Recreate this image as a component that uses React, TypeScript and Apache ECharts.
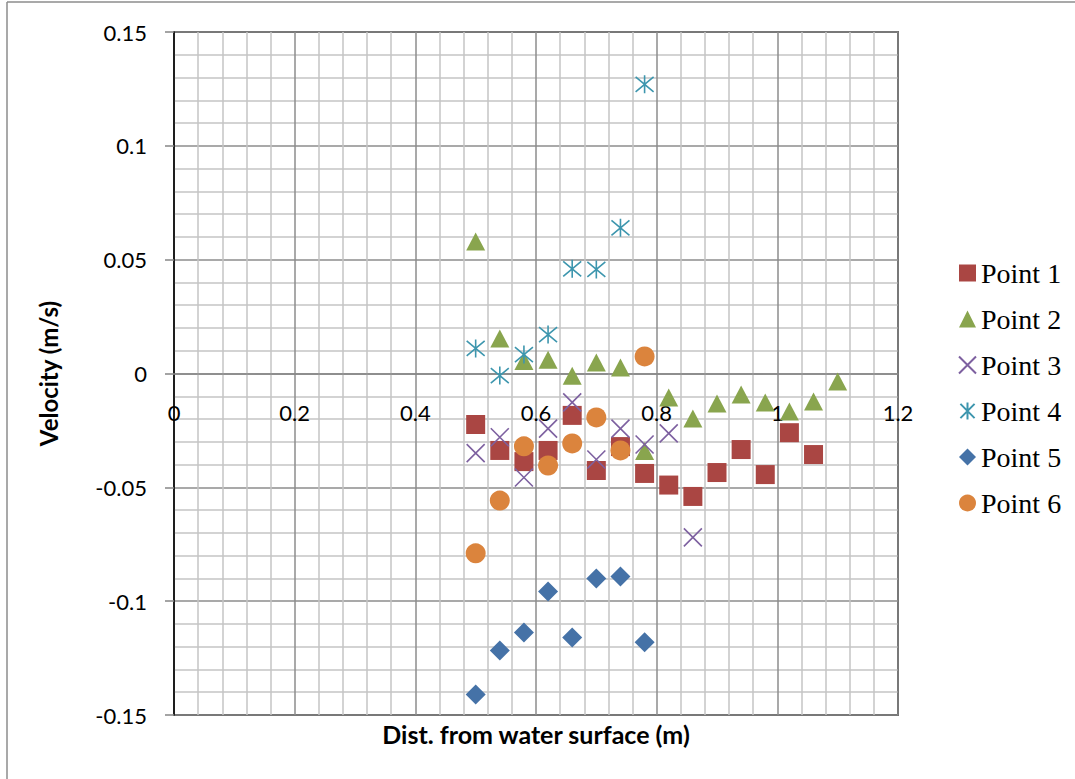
import React, { useEffect, useRef } from "react";
import * as echarts from "echarts";

const seriesNames = ["Point 1", "Point 2", "Point 3", "Point 4", "Point 5", "Point 6"];

const xP1 = [0.5, 0.54, 0.58, 0.62, 0.66, 0.7, 0.74, 0.78, 0.82, 0.86, 0.9, 0.94, 0.98, 1.02, 1.06];
const yP1 = [-0.0224, -0.0338, -0.0387, -0.0338, -0.0184, -0.0426, -0.0321, -0.0439, -0.049, -0.054, -0.0435, -0.0334, -0.0444, -0.026, -0.0356];

const xP2 = [0.5, 0.54, 0.58, 0.62, 0.66, 0.7, 0.74, 0.78, 0.82, 0.86, 0.9, 0.94, 0.98, 1.02, 1.06, 1.1];
const yP2 = [0.058, 0.0154, 0.0055, 0.006, -0.001, 0.0048, 0.0026, -0.034, -0.0105, -0.0198, -0.0132, -0.0092, -0.0127, -0.0167, -0.0123, -0.0035];

const xP3 = [0.5, 0.54, 0.58, 0.62, 0.66, 0.7, 0.74, 0.78, 0.82, 0.86];
const yP3 = [-0.035, -0.028, -0.0457, -0.0242, -0.0127, -0.0378, -0.0242, -0.0312, -0.0263, -0.072];

const xP4 = [0.5, 0.54, 0.58, 0.62, 0.66, 0.7, 0.74, 0.78];
const yP4 = [0.011, -0.0009, 0.0083, 0.0171, 0.046, 0.0457, 0.064, 0.127];

const xP5 = [0.5, 0.54, 0.58, 0.62, 0.66, 0.7, 0.74, 0.78];
const yP5 = [-0.141, -0.1217, -0.1138, -0.0957, -0.116, -0.09, -0.0892, -0.118];

const xP6 = [0.5, 0.54, 0.58, 0.62, 0.66, 0.7, 0.74, 0.78];
const yP6 = [-0.079, -0.0558, -0.032, -0.0404, -0.0307, -0.0193, -0.0338, 0.0075];

const xVals = [xP1, xP2, xP3, xP4, xP5, xP6];
const yVals = [yP1, yP2, yP3, yP4, yP5, yP6];

const colors = ["#AA4643", "#89A54E", "#7D60A0", "#3D96AE", "#4572A7", "#DB843D"];

const X_PATH = "path://M0,0L10,10M10,0L0,10";
const STAR_PATH = "path://M0,0L10,10M10,0L0,10M5,-1L5,11";

const symbols: any[] = ["rect", "triangle", X_PATH, STAR_PATH, "diamond", "circle"];
const symbolSizes: any[] = [19, [19, 18], 18, 18, [20, 20], 20];

export default function App() {
  const ref = useRef<HTMLDivElement>(null);
  useEffect(() => {
    if (!ref.current) return;
    const chart = echarts.init(ref.current, undefined, { renderer: "svg" });
    const series = seriesNames.map((name, i) => {
      const stroked = i === 2 || i === 3;
      return {
        name,
        type: "scatter",
        data: xVals[i].map((x, k) => [x, yVals[i][k]]),
        symbol: symbols[i],
        symbolSize: symbolSizes[i],
        itemStyle: stroked
          ? { color: "rgba(0,0,0,0)", borderColor: colors[i], borderWidth: 1.6, opacity: 1 }
          : { color: colors[i], opacity: 1 },
        emphasis: { disabled: true },
      };
    });
    chart.setOption({
      animation: false,
      backgroundColor: "#ffffff",
      grid: {
        left: 174,
        top: 32,
        right: 177,
        bottom: 64,
        containLabel: false,
        outerBoundsMode: "none",
        show: true,
        borderColor: "#000000",
        borderWidth: 1.5,
        backgroundColor: "transparent",
      },
      graphic: [
        { type: "line", shape: { x1: 7, y1: 2, x2: 7, y2: 779 }, style: { stroke: "#8c8c8c", lineWidth: 1.5 } },
        { type: "line", shape: { x1: 7, y1: 2, x2: 1075, y2: 2 }, style: { stroke: "#8c8c8c", lineWidth: 1.5 } },
      ],
      legend: {
        orient: "vertical",
        left: 958,
        top: 258,
        padding: 0,
        itemWidth: 17,
        itemHeight: 17,
        itemGap: 16,
        data: seriesNames,
        textStyle: { fontSize: 28, lineHeight: 30, fontFamily: "Liberation Serif", color: "#000" },
      },
      xAxis: {
        type: "value",
        min: 0,
        max: 1.2,
        interval: 0.2,
        position: "bottom",
        offset: -341.5,
        name: "Dist. from water surface (m)",
        nameLocation: "middle",
        nameGap: 348,
        nameTextStyle: { fontSize: 25, fontWeight: "bold", fontFamily: "Lato", color: "#000" },
        axisLine: { onZero: false, lineStyle: { color: "#868686", width: 1.5 } },
        axisTick: { show: false },
        axisLabel: { margin: 28, fontSize: 22, fontFamily: "Lato", color: "#000" },
        splitLine: { show: true, lineStyle: { color: "#8c8c8c", width: 1.5 } },
        minorTick: { show: false, splitNumber: 5 },
        minorSplitLine: { show: true, lineStyle: { color: "#c4c4c4", width: 1.5 } },
      },
      yAxis: {
        type: "value",
        min: -0.15,
        max: 0.15,
        interval: 0.05,
        name: "Velocity (m/s)",
        nameLocation: "middle",
        nameRotate: 90,
        nameGap: 114,
        nameTextStyle: { fontSize: 24, fontWeight: "bold", fontFamily: "Lato", color: "#000" },
        axisLine: { show: true, onZero: false, lineStyle: { color: "#000", width: 1.5 } },
        axisTick: { show: true, length: 9, lineStyle: { color: "#868686", width: 1.5 } },
        axisLabel: { margin: 27, fontSize: 22, fontFamily: "Lato", color: "#000" },
        splitLine: { show: true, lineStyle: { color: "#8c8c8c", width: 1.5 } },
        minorTick: { show: false, splitNumber: 5 },
        minorSplitLine: { show: true, lineStyle: { color: "#c4c4c4", width: 1.5 } },
      },
      series,
    });
    return () => chart.dispose();
  }, []);
  return (
    <div
      ref={ref}
      style={{ position: "absolute", left: 0, top: 0, width: 1075, height: 779 }}
    />
  );
}
